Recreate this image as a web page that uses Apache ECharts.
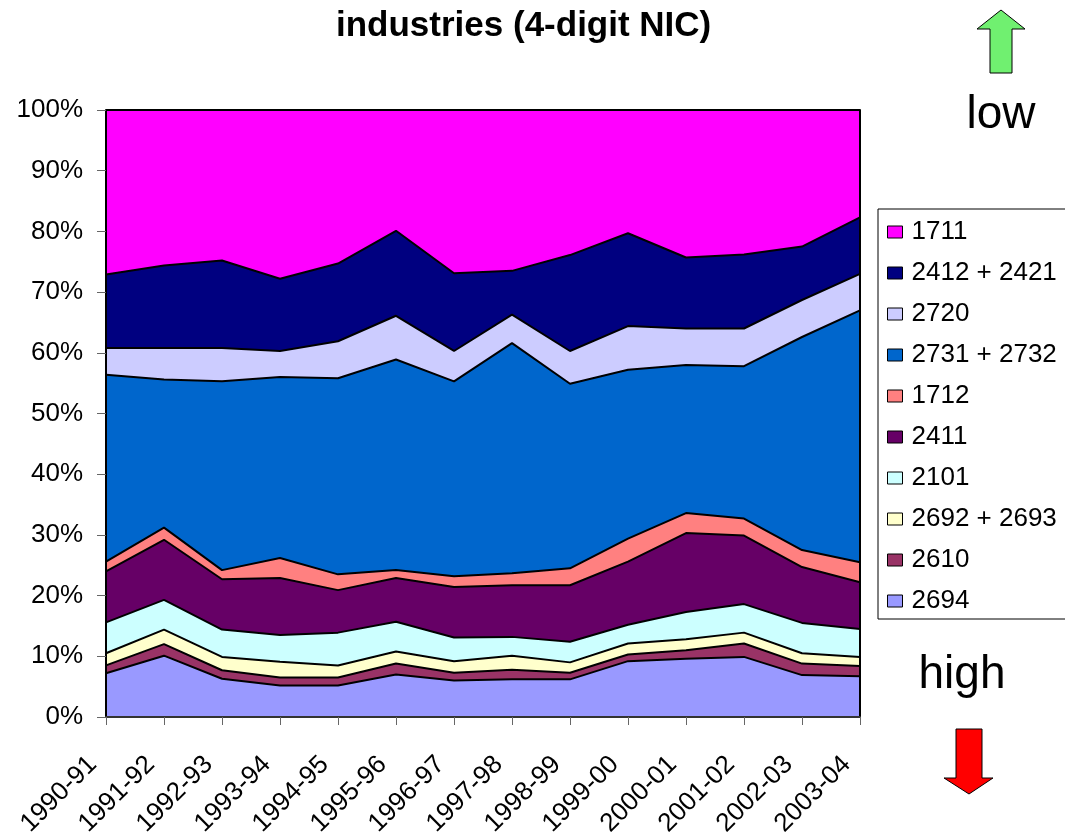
<!DOCTYPE html>
<html>
<head>
<meta charset="utf-8">
<script src="https://cdn.jsdelivr.net/npm/echarts@6/dist/echarts.min.js"></script>
<style>html,body{margin:0;padding:0;background:#fff;}#c{width:1065px;height:832px;}</style>
</head>
<body>
<div id="c"></div>
<script>
// Categories (years)
var years = ['1990-91','1991-92','1992-93','1993-94','1994-95','1995-96','1996-97','1997-98','1998-99','1999-00','2000-01','2001-02','2002-03','2003-04'];
// Shares (%) per industry, stacked bottom to top
var s2694   = [7.2, 10.1, 6.3, 5.2, 5.2, 7.0, 6.0, 6.2, 6.2, 9.2, 9.6, 9.9, 6.9, 6.7];
var s2610   = [1.3, 1.9, 1.4, 1.3, 1.3, 1.8, 1.3, 1.6, 1.1, 1.1, 1.4, 2.2, 1.9, 1.7];
var s2692   = [2.0, 2.4, 2.2, 2.6, 2.0, 2.0, 1.9, 2.3, 1.7, 1.8, 1.8, 1.8, 1.7, 1.5];
var s2101   = [5.1, 4.9, 4.5, 4.4, 5.4, 4.9, 3.9, 3.1, 3.4, 3.1, 4.5, 4.7, 5.0, 4.6];
var s2411   = [8.4, 9.9, 8.3, 9.4, 7.0, 7.2, 8.3, 8.5, 9.3, 10.4, 13.0, 11.3, 9.2, 7.7];
var s1712   = [1.6, 2.0, 1.5, 3.3, 2.6, 1.3, 1.8, 2.0, 2.8, 3.8, 3.3, 2.8, 2.8, 3.3];
var s2731   = [30.8, 24.4, 31.1, 29.8, 32.3, 34.7, 32.1, 37.9, 30.4, 27.8, 24.4, 25.1, 35.1, 41.5];
var s2720   = [4.4, 5.2, 5.5, 4.3, 6.1, 7.2, 5.0, 4.7, 5.4, 7.2, 6.0, 6.2, 6.1, 6.0];
var s2412   = [12.1, 13.6, 14.4, 11.9, 12.8, 14.0, 12.8, 7.2, 15.8, 15.3, 11.7, 12.2, 8.8, 9.3];
var s1711   = [27.1, 25.6, 24.8, 27.8, 25.3, 19.9, 26.9, 26.5, 23.9, 20.3, 24.3, 23.8, 22.5, 17.7];
var yTicks  = [0, 10, 20, 30, 40, 50, 60, 70, 80, 90, 100];

var stackOrder = [
  {name: '2694', data: s2694, color: '#9999FF'},
  {name: '2610', data: s2610, color: '#993366'},
  {name: '2692 + 2693', data: s2692, color: '#FFFFCC'},
  {name: '2101', data: s2101, color: '#CCFFFF'},
  {name: '2411', data: s2411, color: '#660066'},
  {name: '1712', data: s1712, color: '#FF8080'},
  {name: '2731 + 2732', data: s2731, color: '#0066CC'},
  {name: '2720', data: s2720, color: '#CCCCFF'},
  {name: '2412 + 2421', data: s2412, color: '#000080'},
  {name: '1711', data: s1711, color: '#FF00FF'}
];

var FONT = '"Liberation Sans", Arial, sans-serif';

var series = stackOrder.map(function (s, i) {
  return {
    name: s.name,
    type: 'line',
    stack: 'total',
    data: s.data,
    symbol: 'none',
    z: 20 - i,
    color: s.color,
    itemStyle: {color: s.color},
    lineStyle: {color: '#000', width: 2},
    areaStyle: {color: s.color, opacity: 1},
    emphasis: {disabled: true},
    animation: false
  };
});

var legendNames = stackOrder.map(function (s) { return s.name; }).reverse();

var chart = echarts.init(document.getElementById('c'), null, {renderer: 'canvas'});
chart.setOption({
  animation: false,
  backgroundColor: '#fff',
  textStyle: {fontFamily: FONT},
  title: {
    text: 'industries (4-digit NIC)',
    left: 331, top: 4,
    textStyle: {fontFamily: FONT, fontSize: 35, fontWeight: 'bold', color: '#000'}
  },
  grid: {left: 106, right: 205, top: 110, bottom: 115, containLabel: false, outerBoundsMode: 'none'},
  legend: {
    data: legendNames,
    orient: 'vertical',
    left: 878, top: 209,
    icon: 'rect',
    itemWidth: 15, itemHeight: 12,
    itemGap: 15,
    padding: [10, 10, 5, 9],
    borderColor: '#000', borderWidth: 1,
    itemStyle: {borderColor: '#000', borderWidth: 1},
    textStyle: {fontFamily: FONT, fontSize: 26, color: '#000', lineHeight: 26, padding: [0, 0, 0, 4]},
    selectedMode: false
  },
  xAxis: [{
    type: 'category',
    data: years,
    boundaryGap: false,
    axisLine: {show: true, lineStyle: {color: '#000', width: 2}},
    axisTick: {show: true, alignWithLabel: true, length: 8, lineStyle: {color: '#666', width: 1}},
    axisLabel: {rotate: 45, fontSize: 26, color: '#000', margin: 30, padding: [0, 19, 0, 0], fontFamily: FONT},
    splitLine: {show: false},
    z: 30
  }, {
    type: 'category',
    data: years,
    position: 'top',
    boundaryGap: false,
    axisLine: {show: true, lineStyle: {color: '#333', width: 2}},
    axisTick: {show: false},
    axisLabel: {show: false},
    z: 30
  }],
  yAxis: [{
    type: 'value',
    min: yTicks[0], max: yTicks[yTicks.length - 1], interval: 10,
    axisLine: {show: true, lineStyle: {color: '#000', width: 2}},
    axisTick: {show: true, length: 9, lineStyle: {color: '#666', width: 1}},
    axisLabel: {formatter: '{value}%', fontSize: 26, color: '#000', margin: 23, fontFamily: FONT},
    splitLine: {show: false},
    z: 30
  }, {
    type: 'value',
    position: 'right',
    min: 0, max: 100, interval: 10,
    axisLine: {show: true, lineStyle: {color: '#000', width: 2}},
    axisTick: {show: false},
    axisLabel: {show: false},
    splitLine: {show: false},
    z: 30
  }],
  series: series,
  graphic: [
    {type: 'polygon', z: 50,
     shape: {points: [[1001, 10], [1025, 29], [1012, 29], [1012, 73], [990, 73], [990, 29], [977, 29]]},
     style: {fill: '#70F070', stroke: '#000', lineWidth: 1}},
    {type: 'text', z: 50, x: 1001, y: 115,
     style: {text: 'low', fontFamily: FONT, fontSize: 46, fill: '#000', textAlign: 'center', textVerticalAlign: 'middle'}},
    {type: 'text', z: 50, x: 962, y: 675,
     style: {text: 'high', fontFamily: FONT, fontSize: 46, fill: '#000', textAlign: 'center', textVerticalAlign: 'middle'}},
    {type: 'polygon', z: 50,
     shape: {points: [[956, 729], [982, 729], [982, 778], [993, 778], [969, 794], [944, 778], [956, 778]]},
     style: {fill: '#FF0000', stroke: '#000', lineWidth: 1}}
  ]
});
</script>
</body>
</html>
